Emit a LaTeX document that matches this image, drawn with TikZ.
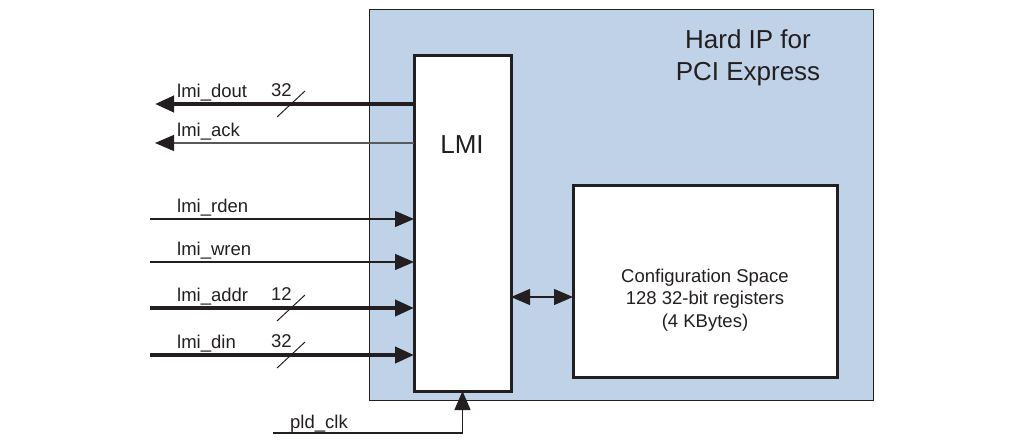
\documentclass[tikz,border=0pt]{standalone}
\usepackage{fontspec}
\setmainfont{Liberation Sans}
\usetikzlibrary{arrows.meta, positioning, calc}
\definecolor{ipblue}{HTML}{C0D2E7}
\definecolor{ipink}{HTML}{231F20}
\definecolor{ipgray}{HTML}{58595B}

\tikzset{
  blk/.style={draw=ipink, fill=white, line width=3pt, outer sep=0pt, inner sep=0pt},
  sig/.style={draw=ipink, line width=1.2pt},
  bus/.style={draw=ipink, line width=4pt},
  tip/.style={-{Triangle[length=19pt, width=16pt, color=ipink]}},
  sigtxt/.style={font=\fontsize{18.5}{22}\selectfont, text=ipink, inner sep=0pt, anchor=base west},
}

\begin{document}
\begin{tikzpicture}[x=1pt, y=-1pt]
  \useasboundingbox (0,0) rectangle (1020,447);

  %% Hard IP block
  \node[draw=ipink, fill=ipblue, line width=1pt, outer sep=0pt, inner sep=0pt,
    minimum width=504pt, minimum height=391pt, anchor=north west] (hardip) at (369,9) {};
  \node[font=\fontsize{26}{32}\selectfont, text=ipink, align=center] (iptxt) at (748,58)
    {Hard IP for\\PCI Express};

  %% LMI block
  \node[blk, minimum width=97pt, minimum height=336pt, anchor=north west] (lmi) at (414,55) {};
  \node[font=\fontsize{26}{31}\selectfont, text=ipink] (lmitxt) at (462,145) {LMI};

  %% Configuration space
  \node[blk, minimum width=264pt, minimum height=192pt, anchor=north west] (cfg) at (573,185) {};
  \node[font=\fontsize{18.5}{22.5}\selectfont, text=ipink, align=center] (cfgtxt) at (705,300)
    {Configuration Space\\128 32-bit registers\\(4 KBytes)};

  %% outputs
  \coordinate (dout) at (155,104);
  \coordinate (ack) at (155,143);
  \draw[bus, tip] (lmi.west |- dout) -- (dout);
  \draw[sig, draw=ipgray, tip] (lmi.west |- ack) -- (ack);
  \node[sigtxt] (douttxt) at (177,97) {lmi\_dout};
  \node[sigtxt] (acktxt) at (177,136) {lmi\_ack};

  %% inputs
  \foreach \nm/\yy/\st in {rden/219/sig, wren/262/sig, addr/308/bus, din/355/bus}{
    \coordinate (\nm) at (150,\yy);
    \draw[\st, tip] (\nm) -- (lmi.west |- \nm);
    \node[sigtxt] (\nm txt) at (177,\yy-7) {lmi\_\nm};
  }

  %% bus widths
  \foreach \nm/\bits in {dout/32, addr/12, din/32}{
    \draw[sig, line width=1pt] ($(lmi.west |- \nm)+(-137,13)$) -- ($(lmi.west |- \nm)+(-109,-13)$);
    \node[sigtxt] (\nm bits) at ($(lmi.west |- \nm)+(-143,-8)$) {\bits};
  }

  %% clock
  \coordinate (clk) at (273,433);
  \draw[sig, tip] (clk) -| (lmi.south);
  \node[sigtxt] (clktxt) at (290,428) {pld\_clk};

  %% LMI <-> configuration space
  \coordinate (link) at (540,297);
  \draw[sig, {Triangle[length=19pt, width=16pt]}-{Triangle[length=19pt, width=16pt]}]
    (lmi.east |- link) -- (cfg.west |- link);

\end{tikzpicture}
\end{document}
